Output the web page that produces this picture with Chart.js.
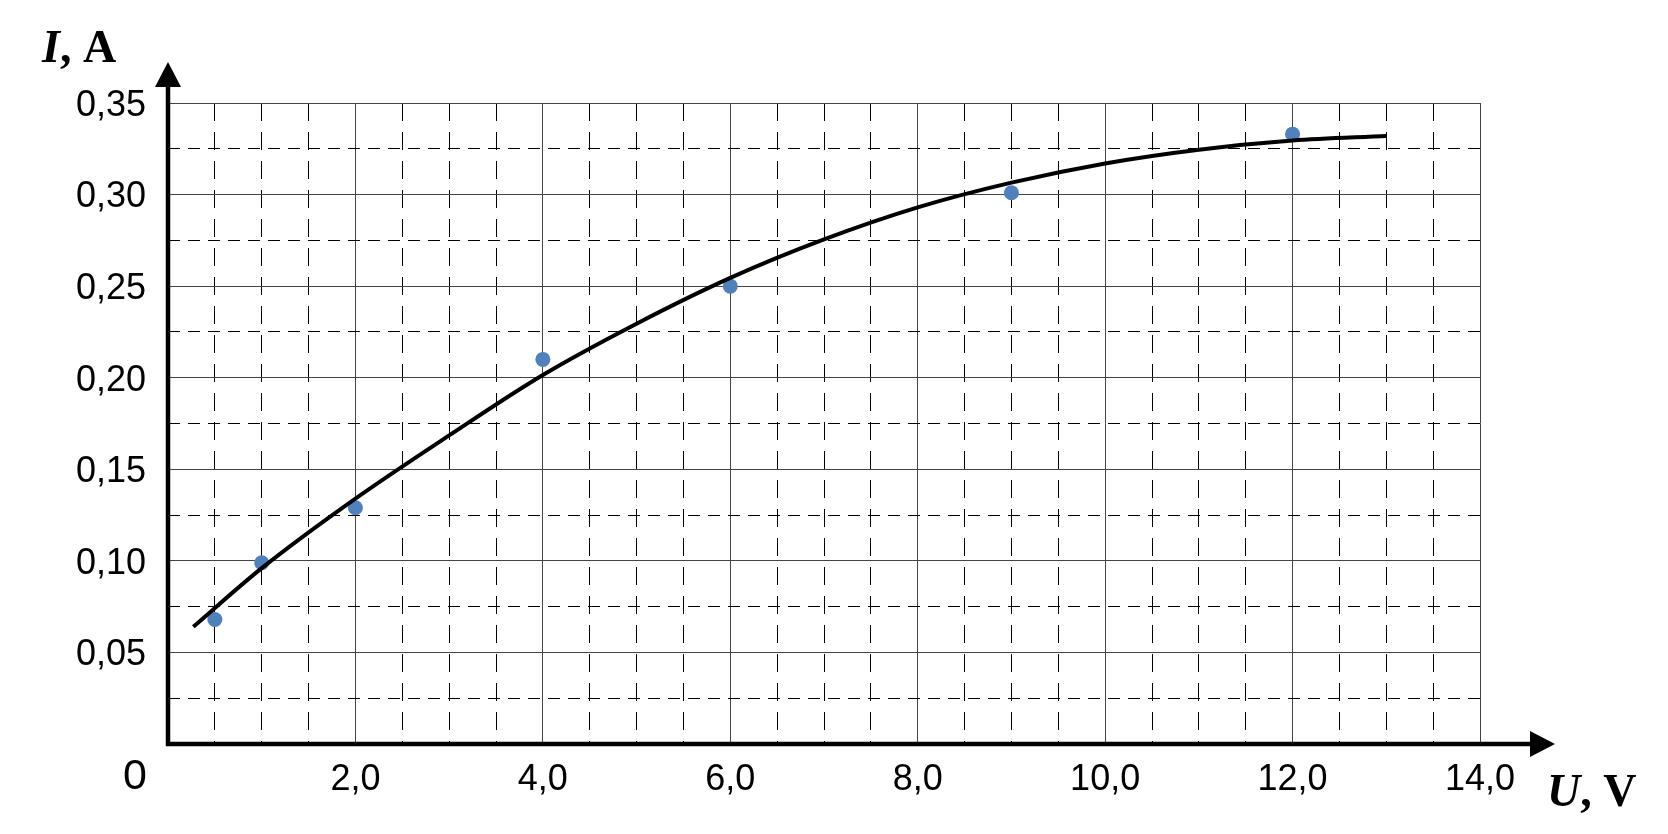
<!DOCTYPE html>
<html>
<head>
<meta charset="utf-8">
<script src="https://cdn.jsdelivr.net/npm/chart.js@4.4.1/dist/chart.umd.min.js"></script>
<style>
  body { margin: 0; background: #fff; }
  #myChart { display: block; }
</style>
</head>
<body>
<canvas id="myChart" width="1668" height="834"></canvas>
<script>
// measured points (U in V, I in A)
var uPoints = [0.5, 1.0, 2.0, 4.0, 6.0, 9.0, 12.0];
var iPoints = [0.068, 0.099, 0.129, 0.210, 0.250, 0.301, 0.333];

// trend curve
var uCurve = [0.27, 1, 2, 3, 4, 5, 6, 7, 8, 9, 10, 11, 12, 13];
var iCurve = [0.064, 0.096, 0.134, 0.1685, 0.2015, 0.2295, 0.2545, 0.2755, 0.293, 0.3065, 0.317, 0.3245, 0.3295, 0.332];

// axis ranges / steps
var xMin = 0, xMax = 14, xMajor = 2, xMinor = 0.5;
var yMin = 0, yMax = 0.35, yMajor = 0.05, yMinor = 0.025;

var ctx = document.getElementById("myChart");

function onStep(v, step) {
  var r = v / step;
  return Math.abs(r - Math.round(r)) < 1e-6;
}

function toPairs(xs, ys) {
  var out = [];
  for (var i = 0; i < xs.length; i++) {
    out.push({x: xs[i], y: ys[i]});
  }
  return out;
}

// draws the thick arrow axes and the axis titles
var axesPlugin = {
  id: 'axesArrows',
  afterDraw: function(chart) {
    var c = chart.ctx;
    var xs = chart.scales.x, ys = chart.scales.y;
    var x0 = xs.getPixelForValue(0);
    var y0 = ys.getPixelForValue(0);
    var top = chart.chartArea.top, right = chart.chartArea.right;
    c.save();
    c.strokeStyle = '#000';
    c.fillStyle = '#000';
    c.lineWidth = 4.5;
    c.beginPath();
    c.moveTo(x0, y0 + 2);
    c.lineTo(x0, top - 17);
    c.moveTo(x0 - 2, y0);
    c.lineTo(right + 50, y0);
    c.stroke();
    // arrow heads
    c.beginPath();
    c.moveTo(x0, top - 41);
    c.lineTo(x0 - 13, top - 16);
    c.lineTo(x0 + 13, top - 16);
    c.closePath();
    c.fill();
    c.beginPath();
    c.moveTo(right + 75, y0);
    c.lineTo(right + 50, y0 - 13);
    c.lineTo(right + 50, y0 + 13);
    c.closePath();
    c.fill();

    // origin label
    c.font = '43px "Liberation Sans", Arial, sans-serif';
    c.textAlign = 'center';
    c.textBaseline = 'alphabetic';
    c.fillText('0', x0 - 33, y0 + 45);

    // axis titles
    c.textAlign = 'left';
    function title(part1, part2, x, y) {
      c.font = 'italic bold 46px "Liberation Serif", "Times New Roman", serif';
      c.fillText(part1, x, y);
      var w = c.measureText(part1).width;
      c.font = 'bold 46px "Liberation Serif", "Times New Roman", serif';
      c.fillText(part2, x + w, y);
    }
    title('I', ', A', 42, 62);
    title('U', ', V', 1547, 806);
    c.restore();
  }
};

new Chart(ctx, {
  type: 'scatter',
  data: {
    datasets: [{
      label: 'curve',
      data: toPairs(uCurve, iCurve),
      showLine: true,
      borderColor: '#000',
      borderWidth: 4,
      pointRadius: 0,
      cubicInterpolationMode: 'monotone',
      order: 0
    }, {
      label: 'points',
      data: toPairs(uPoints, iPoints),
      backgroundColor: '#4F81BD',
      borderWidth: 0,
      pointRadius: 7.5,
      order: 1
    }]
  },
  plugins: [axesPlugin],
  options: {
    responsive: false,
    animation: false,
    layout: {
      padding: {left: 0, top: 103, right: 188, bottom: 0}
    },
    plugins: {
      legend: {display: false},
      tooltip: {enabled: false}
    },
    scales: {
      x: {
        type: 'linear',
        min: xMin,
        max: xMax,
        afterFit: function(s) { s.height = 90; },
        grid: {
          drawTicks: false,
          lineWidth: 1,
          color: function(c) {
            return (c.tick && onStep(c.tick.value, xMajor)) ? '#444' : '#000';
          }
        },
        border: {
          display: false,
          dash: function(c) {
            return (c.tick && onStep(c.tick.value, xMajor)) ? [] : [18, 11];
          }
        },
        ticks: {
          stepSize: xMinor,
          autoSkip: false,
          maxRotation: 0,
          minRotation: 0,
          padding: 14,
          color: '#000',
          font: {family: '"Liberation Sans", Arial, sans-serif', size: 36},
          callback: function(v) {
            if (v === 0 || !onStep(v, xMajor)) return '';
            return v.toFixed(1).replace('.', ',');
          }
        }
      },
      y: {
        type: 'linear',
        min: yMin,
        max: yMax,
        afterFit: function(s) { s.width = 168; },
        grid: {
          drawTicks: false,
          lineWidth: 1,
          color: function(c) {
            return (c.tick && onStep(c.tick.value, yMajor)) ? '#444' : '#000';
          }
        },
        border: {
          display: false,
          dash: function(c) {
            return (c.tick && onStep(c.tick.value, yMajor)) ? [] : [12, 8];
          }
        },
        ticks: {
          stepSize: yMinor,
          autoSkip: false,
          padding: 22,
          labelOffset: 3,
          color: '#000',
          font: {family: '"Liberation Sans", Arial, sans-serif', size: 36},
          callback: function(v) {
            if (v < 1e-9 || !onStep(v, yMajor)) return '';
            return v.toFixed(2).replace('.', ',');
          }
        }
      }
    }
  }
});
</script>
</body>
</html>
